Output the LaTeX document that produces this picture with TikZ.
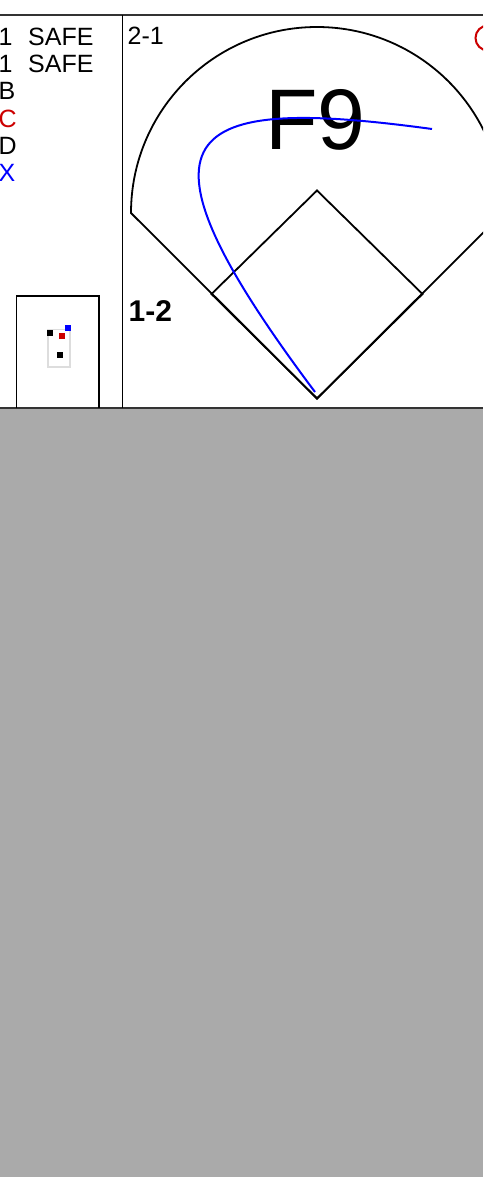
\documentclass[tikz,border=0pt]{standalone}
\usepackage{fontspec}
\setmainfont{Liberation Sans}
\definecolor{bggray}{HTML}{AAAAAA}
\definecolor{rulegray}{HTML}{333333}
\definecolor{markred}{HTML}{CC0000}
\definecolor{boxgray}{HTML}{DDDDDD}
\begin{document}
\begin{tikzpicture}[x=1pt, y=-1pt,
    every node/.style={inner sep=0pt, font=\fontsize{25}{29}\selectfont},
    lbl/.style={anchor=base west},
    field/.style={draw=black, line width=1.8pt},
    rule/.style={draw=rulegray, line width=2pt},
    pin/.style={rectangle, minimum size=6pt}]
  \useasboundingbox (0,0) rectangle (483,1177);
  \clip (0,0) rectangle (483,1177);
  \fill[white] (0,0) rectangle (483,408);
  \fill[bggray] (0,408) rectangle (483,1177);

  % frame
  \draw[rule] (0,15) -- (483,15);
  \draw[rule] (0,408) -- (483,408);
  \draw[draw=black, line width=1.8pt] (122.5,15) -- (122.5,408);

  % left column
  \node[lbl] (n1) at (-1.5,46) {1};
  \node[lbl] (s1) at (28,46) {SAFE};
  \node[lbl] (n2) at (-1.5,73) {1};
  \node[lbl] (s2) at (28,73) {SAFE};
  \node[lbl] (nb) at (-1.5,100) {B};
  \node[lbl, text=markred] (nc) at (-1.5,127.5) {C};
  \node[lbl] (nd) at (-1.5,155) {D};
  \node[lbl, text=blue] (nx) at (-1.5,182) {X};

  % pitch box
  \draw[draw=black, line width=1.8pt] (16.5,408) |- (99,296) -- (99,408);
  \draw[draw=boxgray, line width=1.8pt] (48,329.5) rectangle (70,367);
  \node[pin, fill=black] (p1) at (50.3,333.3) {};
  \node[pin, fill=markred] (p2) at (62,335.5) {};
  \node[pin, fill=blue] (p3) at (68,327.5) {};
  \node[pin, fill=black] (p4) at (60,355) {};

  % field
  \coordinate (home) at (317,398.5);
  \coordinate (first) at (422.5,294);
  \coordinate (second) at (317,190.5);
  \coordinate (third) at (211.5,294);
  \draw[field] (home) -- (131,213) arc[start angle=180, end angle=360, radius=186] -- cycle;
  \draw[field] (home) -- (first) -- (second) -- (third) -- cycle;

  \node[lbl] (count) at (127.5,45) {2-1};
  \node[lbl, font=\fontsize{30}{34}\selectfont\bfseries] (outs) at (128.5,321) {1-2};
  \node[anchor=base, font=\fontsize{86}{90}\selectfont] (play) at (315.5,150) {F9};

  % hit
  \coordinate (hitstart) at (315,392);
  \coordinate (hitend) at (432,129);
  \draw[blue, line width=2pt] (hitstart) .. controls (117,128) and (182,95) .. (hitend);

  \draw[draw=markred, line width=2pt] (488,38) circle[radius=12.5];
\end{tikzpicture}
\end{document}
